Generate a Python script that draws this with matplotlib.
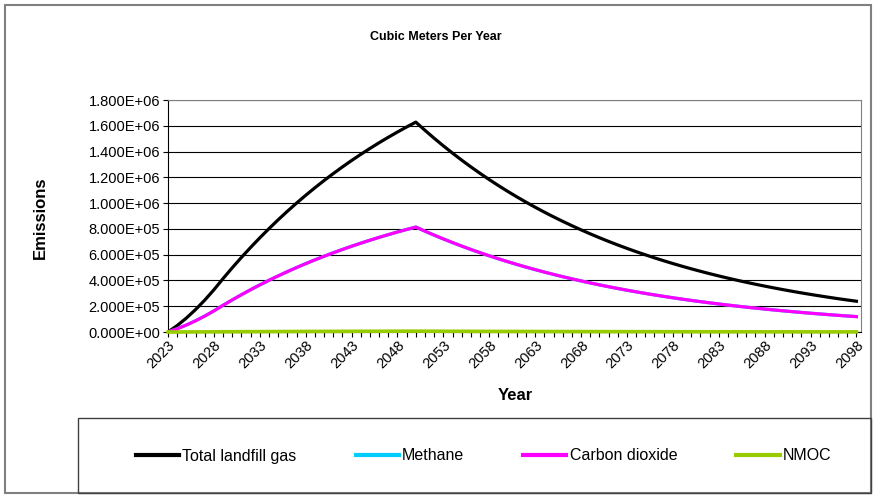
import matplotlib
matplotlib.use("Agg")
import matplotlib.pyplot as plt
from matplotlib.patches import Rectangle
from matplotlib.ticker import FuncFormatter, MultipleLocator

plt.rcParams['font.family'] = ['Liberation Sans', 'DejaVu Sans']

# years 2023 .. 2098
years = list(range(2023, 2099))

# emissions, cubic meters per year
total_gas = [0, 50000, 108000, 173800, 247000, 327400, 414600, 498300, 578800, 656100,
             730400, 801800, 870400, 936300, 999600, 1060400, 1118800, 1174900, 1228800, 1280600,
             1330400, 1378200, 1424200, 1468400, 1510800, 1551600, 1590700, 1628300,
             1564500, 1503100, 1444200, 1387600, 1333200, 1280900, 1230700, 1182400, 1136000, 1091500,
             1048700, 1007600, 968100, 930100, 893600, 858600, 824900, 792600, 761500, 731600,
             702900, 675300, 648800, 623400, 599000, 575500, 552900, 531200, 510400, 490400,
             471200, 452700, 435000, 417900, 401500, 385800, 370700, 356200, 342200, 328800,
             315900, 303500, 291600, 280200, 269200, 258600, 248500, 238800]

methane = [0, 25000, 54000, 86900, 123500, 163700, 207300, 249150, 289400, 328050,
           365200, 400900, 435200, 468150, 499800, 530200, 559400, 587450, 614400, 640300,
           665200, 689100, 712100, 734200, 755400, 775800, 795350, 814150,
           782250, 751550, 722100, 693800, 666600, 640450, 615350, 591200, 568000, 545750,
           524350, 503800, 484050, 465050, 446800, 429300, 412450, 396300, 380750, 365800,
           351450, 337650, 324400, 311700, 299500, 287750, 276450, 265600, 255200, 245200,
           235600, 226350, 217500, 208950, 200750, 192900, 185350, 178100, 171100, 164400,
           157950, 151750, 145800, 140100, 134600, 129300, 124250, 119400]

carbon_dioxide = [0, 25000, 54000, 86900, 123500, 163700, 207300, 249150, 289400, 328050,
                  365200, 400900, 435200, 468150, 499800, 530200, 559400, 587450, 614400, 640300,
                  665200, 689100, 712100, 734200, 755400, 775800, 795350, 814150,
                  782250, 751550, 722100, 693800, 666600, 640450, 615350, 591200, 568000, 545750,
                  524350, 503800, 484050, 465050, 446800, 429300, 412450, 396300, 380750, 365800,
                  351450, 337650, 324400, 311700, 299500, 287750, 276450, 265600, 255200, 245200,
                  235600, 226350, 217500, 208950, 200750, 192900, 185350, 178100, 171100, 164400,
                  157950, 151750, 145800, 140100, 134600, 129300, 124250, 119400]

nmoc = [0, 200, 432, 695, 988, 1310, 1658, 1993, 2315, 2624,
        2922, 3207, 3482, 3745, 3998, 4242, 4475, 4700, 4915, 5122,
        5322, 5513, 5697, 5874, 6043, 6206, 6363, 6513,
        6258, 6012, 5777, 5550, 5333, 5124, 4923, 4730, 4544, 4366,
        4195, 4030, 3872, 3720, 3574, 3434, 3300, 3170, 3046, 2926,
        2812, 2701, 2595, 2494, 2396, 2302, 2212, 2125, 2042, 1962,
        1885, 1811, 1740, 1672, 1606, 1543, 1483, 1425, 1369, 1315,
        1264, 1214, 1166, 1121, 1077, 1034, 994, 955]

W, H = 874, 495
fig = plt.figure(figsize=(W / 100, H / 100), dpi=100)
ax = fig.add_axes([168 / W, 1 - 332 / H, (861 - 168) / W, (332 - 100) / H])

lw = 2.3
ax.plot(years, total_gas, color='black', lw=lw, label='Total landfill gas', zorder=4)
ax.plot(years, methane, color='#00CCFF', lw=lw, label='Methane', zorder=4)
ax.plot(years, carbon_dioxide, color='#FF00FF', lw=lw, label='Carbon dioxide', zorder=4)
ax.plot(years, nmoc, color='#99CC00', lw=2.6, label='NMOC', zorder=5, clip_on=False)

ax.set_xlim(2023, 2098.5)
ax.set_ylim(0, 1.8e6)
ax.yaxis.set_major_locator(MultipleLocator(2e5))
ax.yaxis.set_major_formatter(FuncFormatter(lambda v, p: '{:.3E}'.format(v)))
ax.set_xticks(years[::5])
ax.set_xticks(years, minor=True)
ax.tick_params(axis='x', which='both', direction='out', length=3.5, width=0.8, labelsize=10.5, pad=1)
ax.tick_params(axis='y', direction='out', length=3.5, width=0.8, labelsize=10.5, pad=2)
for lab in ax.get_xticklabels():
    lab.set_rotation(45)
    lab.set_ha('right')
    lab.set_rotation_mode('anchor')

ax.grid(axis='y', color='black', lw=0.8)
ax.set_axisbelow(True)
for s in ['top', 'right']:
    ax.spines[s].set_color('#808080')
for s in ['left', 'bottom']:
    ax.spines[s].set_color('black')

fig.text(40 / W, 1 - 218 / H, 'Emissions', rotation=90, ha='center', va='center',
         fontsize=12, fontweight='bold')
fig.text(515 / W, 1 - 395 / H, 'Year', ha='center', va='center',
         fontsize=12, fontweight='bold')
fig.text(436 / W, 1 - 37 / H, 'Cubic Meters Per Year', ha='center', va='center',
         fontsize=9, fontweight='bold')

# outer chart border and legend box
fig.patches.append(Rectangle((5 / W, 2 / H), (871 - 5) / W, (493 - 5) / H, transform=fig.transFigure,
                             fill=False, edgecolor='#808080', lw=1.5))
fig.patches.append(Rectangle((78 / W, 2 / H), (871 - 78) / W, (493 - 418) / H, transform=fig.transFigure,
                             fill=False, edgecolor='#404040', lw=1))

fig.legend(loc='center left', bbox_to_anchor=(136 / W, 1 - 456 / H), ncol=4, frameon=False,
           fontsize=11.5, handlelength=2.7, handletextpad=0.2, columnspacing=3.7,
           borderpad=0, borderaxespad=0)
for line in fig.legends[0].get_lines():
    line.set_linewidth(3)

fig.savefig('out.png', dpi=100)
